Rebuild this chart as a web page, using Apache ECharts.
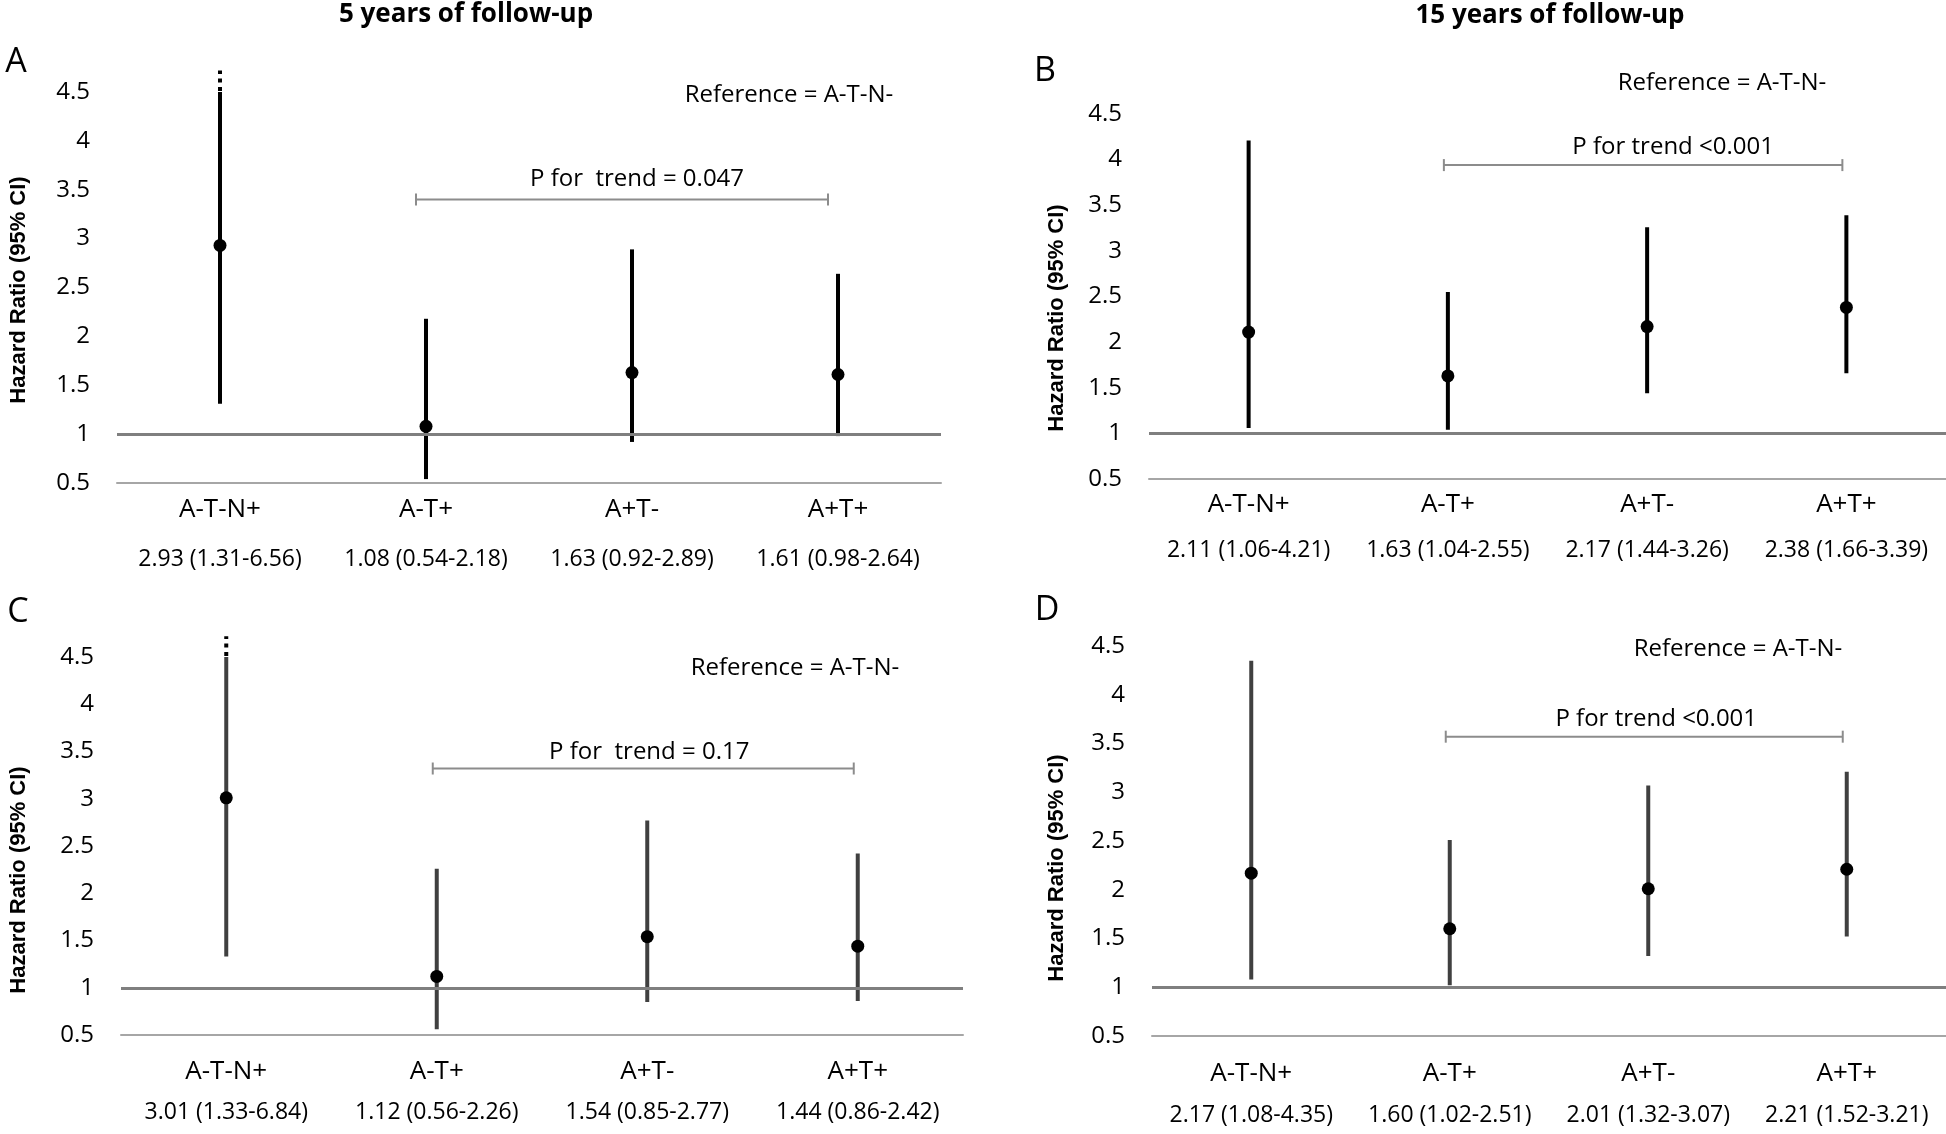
<!DOCTYPE html>
<html><head><meta charset="utf-8">
<script src="https://cdn.jsdelivr.net/npm/echarts@6/dist/echarts.min.js"></script>
<style>html,body{margin:0;padding:0;background:#fff}#c{width:1946px;height:1134px}</style>
</head><body><div id="c"></div>
<script>
// ---------- data ----------
const categories = ['A-T-N+', 'A-T+', 'A+T-', 'A+T+'];
const hrA = [2.93, 1.08, 1.63, 1.61];
const loA = [1.31, 0.54, 0.92, 0.98];
const hiA = [6.56, 2.18, 2.89, 2.64];
const hrB = [2.11, 1.63, 2.17, 2.38];
const loB = [1.06, 1.04, 1.44, 1.66];
const hiB = [4.21, 2.55, 3.26, 3.39];
const hrC = [3.01, 1.12, 1.54, 1.44];
const loC = [1.33, 0.56, 0.85, 0.86];
const hiC = [6.84, 2.26, 2.77, 2.42];
const hrD = [2.17, 1.60, 2.01, 2.21];
const loD = [1.08, 1.02, 1.32, 1.52];
const hiD = [4.35, 2.51, 3.07, 3.21];
const yMin = 0.5, yMax = 4.5, yStep = 0.5;
const referenceValue = 1;
const panelLetters = ['A', 'B', 'C', 'D'];
const columnTitles = ['5 years of follow-up', '15 years of follow-up'];
const referenceText = 'Reference = A-T-N-';
const yAxisTitle = 'Hazard Ratio (95% CI)';
const trendTexts = ['P for  trend = 0.047', 'P for trend <0.001', 'P for  trend = 0.17', 'P for trend <0.001'];
const trendLevels = [3.4, 3.94, 3.32, 3.57];
const trendFrom = 'A-T+', trendTo = 'A+T+';

// ---------- layout / style ----------
const FONT = "'Open Sans', 'Noto Sans', sans-serif";
const panels = [
  {hr: hrA, lo: loA, hi: hiA, left: 117, top: 92, width: 824, height: 391, stroke: '#000',
   m: 7, l1: 40, l2: 58, brDx: -10, txtDx: 15, txtDy: 20,
   letter: [16, 62], ytitle: [19, 290], ref: [789, 95]},
  {hr: hrB, lo: loB, hi: hiB, left: 1149, top: 114, width: 797, height: 365, stroke: '#000',
   m: 6, l1: 40, l2: 50, brDx: -4, txtDx: 30, txtDy: 18,
   letter: [1045, 71], ytitle: [1057, 318], ref: [1722, 83]},
  {hr: hrC, lo: loC, hi: hiC, left: 121, top: 657, width: 842, height: 378, stroke: '#404040',
   m: 17, l1: 40, l2: 40, brDx: -4, txtDx: 6, txtDy: 16,
   letter: [18, 612], ytitle: [19, 880], ref: [795, 668]},
  {hr: hrD, lo: loD, hi: hiD, left: 1152, top: 646, width: 794, height: 390, stroke: '#404040',
   m: 18, l1: 40, l2: 42, brDx: -4, txtDx: 12, txtDy: 18,
   letter: [1047, 610], ytitle: [1057, 868], ref: [1738, 649]}
];
const titlePos = [[466, 15], [1550, 16]];

const grid = [], xAxis = [], yAxis = [], series = [], graphic = [];

panels.forEach((p, i) => {
  grid.push({left: p.left, top: p.top, width: p.width, height: p.height});
  const hrTexts = p.hr.map((v, k) => `${v.toFixed(2)} (${p.lo[k].toFixed(2)}-${p.hi[k].toFixed(2)})`);
  xAxis.push({
    type: 'category', gridIndex: i, data: categories, boundaryGap: true,
    axisLine: {show: true, lineStyle: {color: '#a6a6a6', width: 2}},
    axisTick: {show: false}, splitLine: {show: false},
    axisLabel: {
      interval: 0, margin: p.m, color: '#000',
      formatter: (v, idx) => `{a|${v}}\n{b|${hrTexts[idx]}}`,
      rich: {
        a: {fontSize: 26, fontFamily: FONT, color: '#000', lineHeight: p.l1},
        b: {fontSize: 23, fontFamily: FONT, color: '#000', lineHeight: p.l2}
      }
    }
  });
  yAxis.push({
    type: 'value', gridIndex: i, min: yMin, max: yMax, interval: yStep,
    axisLine: {show: false}, axisTick: {show: false}, splitLine: {show: false},
    axisLabel: {fontSize: 24, fontFamily: FONT, color: '#000', margin: 27}
  });
  // reference line + trend bracket
  series.push({
    type: 'custom', xAxisIndex: i, yAxisIndex: i, z: 1, clip: false, silent: true,
    data: [[categories.indexOf(trendFrom), categories.indexOf(trendTo), trendLevels[i]]],
    encode: {x: [0, 1], y: 2},
    renderItem: (params, api) => {
      const a = api.coord([api.value(0), api.value(2)]);
      const b = api.coord([api.value(1), api.value(2)]);
      const x1 = a[0] + p.brDx, x2 = b[0] + p.brDx, y = a[1];
      const st = {stroke: '#8c8c8c', lineWidth: 2};
      return {type: 'group', children: [
        {type: 'line', shape: {x1, y1: y, x2, y2: y}, style: st},
        {type: 'line', shape: {x1, y1: y - 6, x2: x1, y2: y + 6}, style: st},
        {type: 'line', shape: {x1: x2, y1: y - 6, x2, y2: y + 6}, style: st},
        {type: 'text', x: (x1 + x2) / 2 + p.txtDx, y: y - p.txtDy,
         style: {text: trendTexts[i], fontSize: 24, fontFamily: FONT, fill: '#000',
                 align: 'center', verticalAlign: 'middle', textAlign: 'center', textVerticalAlign: 'middle'}}
      ]};
    },
    markLine: {
      silent: true, symbol: 'none', label: {show: false}, animation: false,
      lineStyle: {color: '#7f7f7f', width: 3, type: 'solid'},
      data: [{yAxis: referenceValue}]
    }
  });
  // whiskers + points
  series.push({
    type: 'custom', xAxisIndex: i, yAxisIndex: i, z: 3, clip: false, silent: true,
    data: p.hr.map((v, k) => [k, v, p.lo[k], p.hi[k]]),
    encode: {x: 0, y: [1, 2, 3]},
    renderItem: (params, api) => {
      const x = api.value(0), hr = api.value(1), lo = api.value(2), hi = api.value(3);
      const top = Math.min(hi, yMax);
      const pLo = api.coord([x, lo]), pTop = api.coord([x, top]), pHr = api.coord([x, hr]);
      const children = [
        {type: 'line', shape: {x1: pLo[0], y1: pLo[1], x2: pTop[0], y2: pTop[1]},
         style: {stroke: p.stroke, lineWidth: 4}},
        {type: 'circle', shape: {cx: pHr[0], cy: pHr[1], r: 6.5}, style: {fill: '#000'}}
      ];
      if (hi > yMax) {
        const ext = api.coord([x, yMax + 0.22]);
        children.push({type: 'line', shape: {x1: pTop[0], y1: pTop[1] - 1, x2: ext[0], y2: ext[1]},
          style: {stroke: '#000', lineWidth: 4, lineDash: [4, 4.5]}});
      }
      return {type: 'group', children};
    }
  });
  // texts
  graphic.push({type: 'text', x: p.letter[0], y: p.letter[1], silent: true,
    style: {text: panelLetters[i], fontSize: 34, fontFamily: FONT, fill: '#000',
            align: 'center', verticalAlign: 'middle', textAlign: 'center', textVerticalAlign: 'middle'}});
  graphic.push({type: 'text', x: p.ytitle[0], y: p.ytitle[1], rotation: Math.PI / 2, silent: true,
    style: {text: yAxisTitle, fontSize: 22, fontWeight: 'bold', fontFamily: "'Liberation Sans', Arial, sans-serif", fill: '#000',
            align: 'center', verticalAlign: 'middle', textAlign: 'center', textVerticalAlign: 'middle'}});
  graphic.push({type: 'text', x: p.ref[0], y: p.ref[1], silent: true,
    style: {text: referenceText, fontSize: 24, fontFamily: FONT, fill: '#000',
            align: 'center', verticalAlign: 'middle', textAlign: 'center', textVerticalAlign: 'middle'}});
});
columnTitles.forEach((t, j) => {
  graphic.push({type: 'text', x: titlePos[j][0], y: titlePos[j][1], silent: true,
    style: {text: t, fontSize: 26, fontWeight: 'bold', fontFamily: FONT, fill: '#000',
            align: 'center', verticalAlign: 'middle', textAlign: 'center', textVerticalAlign: 'middle'}});
});

const chart = echarts.init(document.getElementById('c'), null, {renderer: 'canvas'});
chart.setOption({animation: false, backgroundColor: '#fff', grid, xAxis, yAxis, series, graphic});
</script>
</body></html>
